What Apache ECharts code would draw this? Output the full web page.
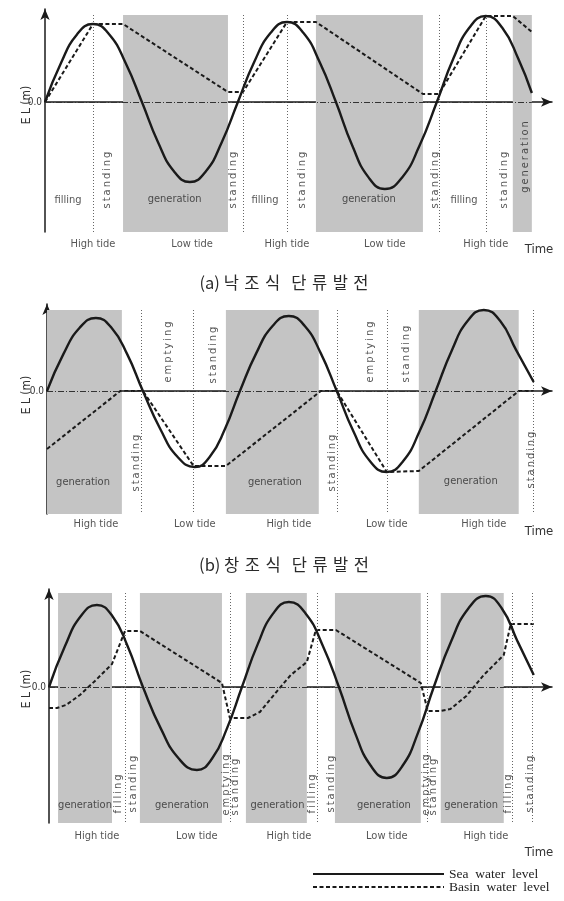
<!DOCTYPE html>
<html><head><meta charset="utf-8">
<script src="https://cdn.jsdelivr.net/npm/echarts@6/dist/echarts.min.js"></script>
<style>html,body{margin:0;padding:0;background:#fff}#c{width:564px;height:901px}</style>
</head><body><div id="c"></div>
<script>
// ---------- DATA (time in h, water level in m) ----------
// (a) 낙조식 단류발전 (ebb generation)
const seaA = [[0,0],[1.0,1.95],[2.0,3.38],[3.0,3.9],[4.02,3.38],[5.04,1.95],[6.06,0],[7.06,-2.0],[8.06,-3.46],[9.06,-4.0],[10.06,-3.46],[11.06,-2.0],[12.06,0],[13.08,2.0],[14.11,3.46],[15.13,4.0],[16.15,3.46],[17.17,2.0],[18.19,0],[19.21,-2.18],[20.23,-3.77],[21.25,-4.35],[22.33,-3.77],[23.42,-2.18],[24.5,0],[25.52,2.15],[26.54,3.72],[27.56,4.3],[28.58,3.72],[29.6,2.15],[30.44,0.45]];
const basinA = [[0,0],[3.0,3.9],[4.88,3.9],[11.44,0.5],[12.38,0.5],[15.13,4.0],[16.94,4.0],[23.63,0.4],[24.63,0.4],[27.56,4.3],[29.25,4.3],[30.44,3.5]];
const genA = [[4.88,11.44],[16.94,23.63],[29.25,30.44]];
const divA = [3.0,12.38,15.13,24.63,27.56];
const phaseA = [['filling',1.44,-4.9,0],['standing',3.88,-3.9,90],['generation',8.1,-4.85,0],['standing',11.75,-3.9,90],['filling',13.75,-4.9,0],['standing',16.06,-3.9,90],['generation',20.25,-4.85,0],['standing',24.4,-3.9,90],['filling',26.2,-4.9,0],['standing',28.7,-3.9,90],['generation',30.0,-2.75,90]];
const tideA = [[3.0,'High tide'],[9.2,'Low tide'],[15.13,'High tide'],[21.25,'Low tide'],[27.56,'High tide']];

// (b) 창조식 단류발전 (flood generation)
const seaB = [[0,0],[1.02,1.83],[2.05,3.16],[3.07,3.65],[4.05,3.16],[5.04,1.83],[6.02,0],[7.11,-1.9],[8.19,-3.29],[9.28,-3.8],[10.22,-3.29],[11.17,-1.9],[12.11,0],[13.13,1.88],[14.16,3.25],[15.18,3.75],[16.18,3.25],[17.19,1.88],[18.19,0],[19.24,-2.03],[20.28,-3.51],[21.33,-4.05],[22.35,-3.51],[23.38,-2.03],[24.4,0],[25.41,2.03],[26.41,3.51],[27.42,4.05],[28.44,3.51],[29.46,2.03],[30.55,0.45]];
const basinB = [[0,-2.9],[4.6,0],[6.02,0],[9.2,-3.75],[11.23,-3.75],[17.19,0],[18.19,0],[21.33,-4.05],[23.34,-4.0],[29.61,0],[30.55,0]];
const genB = [[0,4.7],[11.23,17.06],[23.34,29.61]];
const divB = [5.9,9.2,18.19,21.33,30.55];
const phaseB = [['generation',2.26,-4.55,0],['standing',5.58,-3.6,90],['emptying',7.59,1.95,90],['standing',10.4,1.8,90],['generation',14.3,-4.55,0],['standing',17.88,-3.6,90],['emptying',20.26,1.95,90],['standing',22.52,1.85,90],['generation',26.6,-4.5,0],['standing',30.36,-3.45,90]];
const tideB = [[3.07,'High tide'],[9.28,'Low tide'],[15.18,'High tide'],[21.33,'Low tide'],[27.42,'High tide']];

// (c) 복류발전 (two-way generation)
const seaC = [[0,0],[1.01,2.05],[2.01,3.55],[3.02,4.1],[3.99,3.55],[4.95,2.05],[5.92,0],[7.05,-2.08],[8.19,-3.59],[9.32,-4.15],[10.27,-3.59],[11.21,-2.08],[12.16,0],[13.15,2.13],[14.13,3.68],[15.12,4.25],[16.17,3.68],[17.22,2.13],[18.27,0],[19.28,-2.28],[20.28,-3.94],[21.29,-4.55],[22.28,-3.94],[23.26,-2.28],[24.25,0],[25.34,2.28],[26.44,3.94],[27.53,4.55],[28.53,3.94],[29.53,2.28],[30.55,0.6]];
const basinC = [[0,-1.05],[0.5,-1.05],[1.07,-0.9],[1.95,-0.4],[2.96,0.35],[3.97,1.15],[4.79,2.8],[5.73,2.8],[10.9,0.2],[11.4,-1.55],[12.54,-1.55],[13.29,-1.25],[14.43,-0.15],[15.24,0.6],[16.25,1.25],[16.82,2.85],[18.08,2.85],[23.43,0.2],[23.87,-1.2],[24.69,-1.2],[25.3,-1.1],[26.3,-0.45],[27.4,0.6],[28.66,1.6],[29.1,3.15],[30.55,3.15]];
const genC = [[0.57,3.97],[5.73,10.9],[12.41,16.25],[18.02,23.43],[24.69,28.66]];
const divC = [4.79,11.4,16.88,23.81,29.17,30.43];
const phaseC = [['generation',2.27,-5.9,0],['filling',4.35,-5.35,90],['standing',5.29,-4.85,90],['generation',8.38,-5.9,0],['emptying',11.15,-4.9,90],['standing',11.72,-5.0,90],['generation',14.4,-5.9,0],['filling',16.6,-5.35,90],['standing',17.76,-4.85,90],['generation',21.1,-5.9,0],['emptying',23.75,-4.9,90],['standing',24.19,-5.0,90],['generation',26.6,-5.9,0],['filling',28.95,-5.35,90],['standing',30.3,-4.85,90]];
const tideC = [[3.02,'High tide'],[9.32,'Low tide'],[15.12,'High tide'],[21.29,'Low tide'],[27.53,'High tide']];

const captions = ['(a) 낙조식 단류발전','(b) 창조식 단류발전'];
const legendNames = ['Sea water level','Basin water level'];

// ---------- LAYOUT / STYLE ----------
const NARROW = "'Liberation Sans Narrow','DejaVu Sans Condensed','Liberation Sans',sans-serif";
const INK = '#1a1a1a';
const panels = [
  {sea:seaA, basin:basinA, gen:genA, div:divA, phase:phaseA, tide:tideA, left:45, top:9, height:223, min:-6.5, max:4.65, areaTop:4.35, end:30.44, tideDist:7},
  {sea:seaB, basin:basinB, gen:genB, div:divB, phase:phaseB, tide:tideB, left:47, top:304, height:210, min:-6.15, max:4.35, areaTop:4.05, end:30.55, tideDist:5},
  {sea:seaC, basin:basinC, gen:genC, div:divC, phase:phaseC, tide:tideC, left:49, top:589, height:234, min:-6.8, max:4.9, areaTop:4.7, end:30.55, tideDist:8}
];
const spaced = s => s.split('').join('\u2009');

const grid=[], xAxis=[], yAxis=[], series=[];
panels.forEach((p,i)=>{
  grid.push({left:p.left, right:12, top:p.top, height:p.height});
  xAxis.push({type:'value', gridIndex:i, min:0, max:31.7,
    axisLine:{show:true, lineStyle:{color:INK, width:1.5}, symbol:['none','arrow'], symbolSize:[7,11]},
    axisTick:{show:false}, axisLabel:{show:false}, splitLine:{show:false}});
  yAxis.push({type:'value', gridIndex:i, min:p.min, max:p.max,
    axisLine:{show:true, onZero:false, lineStyle:{color:INK, width:1.5}, symbol:['none','arrow'], symbolSize:[7,11]},
    axisTick:{show:false}, splitLine:{show:false},
    axisLabel:{show:true, margin:3, fontSize:10, color:'#333', fontFamily:NARROW,
      formatter:v=>Math.abs(v)<1e-9?'0.0':''}});
  series.push({type:'line', xAxisIndex:i, yAxisIndex:i, data:[[0,0]], symbol:'none', silent:true, z:1,
    lineStyle:{opacity:0},
    markArea:{silent:true, itemStyle:{color:'#c4c4c4'},
      data:p.gen.map(g=>[{coord:[g[0],p.areaTop]},{coord:[g[1],p.min]}])}});
  const ml = p.div.map(t=>[{coord:[t,p.areaTop], lineStyle:{color:'#666', width:1, type:[1,2]}},{coord:[t,p.min]}]);
  ml.push([{coord:[0,0], lineStyle:{color:'#333', width:1.2, type:[6,2,1,2]}},{coord:[p.end,0]}]);
  series.push({type:'line', xAxisIndex:i, yAxisIndex:i, data:[[0,0]], symbol:'none', silent:true, z:2,
    lineStyle:{opacity:0},
    markLine:{silent:true, symbol:['none','none'], label:{show:false}, data:ml}});
  series.push({name:legendNames[0], type:'line', xAxisIndex:i, yAxisIndex:i, data:p.sea, smooth:0.5,
    symbol:'none', z:5, lineStyle:{color:INK, width:2.4}, itemStyle:{color:INK}});
  series.push({name:legendNames[1], type:'line', xAxisIndex:i, yAxisIndex:i, data:p.basin,
    symbol:'none', z:4, lineStyle:{color:INK, width:2, type:[4,2.5]}, itemStyle:{color:INK}});
  series.push({type:'scatter', xAxisIndex:i, yAxisIndex:i, symbolSize:0, silent:true, clip:false, z:6,
    data:p.phase.map(d=>({value:[d[1],d[2]], label:{show:true, position:'inside', rotate:d[3],
      formatter:d[3]?spaced(d[0]):d[0], fontSize:11, color:'#2a2a2a', fontFamily:NARROW,
      align:'center', verticalAlign:'middle'}}))});
  series.push({type:'scatter', xAxisIndex:i, yAxisIndex:i, symbolSize:0, silent:true, clip:false, z:6,
    data:p.tide.map(d=>({value:[d[0],p.min], label:{show:true, position:'bottom', distance:p.tideDist,
      formatter:d[1], fontSize:11, color:'#2a2a2a', fontFamily:NARROW}}))});
});

const graphic = [];
const elY = [105, 395, 689], timeY = [250, 532, 853];
elY.forEach(y=>graphic.push({type:'text', x:27, y:y, rotation:Math.PI/2,
  style:{text:'E L (m)', fill:'#333', font:"12px "+NARROW, textAlign:'center', textVerticalAlign:'middle'}}));
timeY.forEach(y=>graphic.push({type:'text', x:539, y:y,
  style:{text:'Time', fill:'#333', font:"13px "+NARROW, textAlign:'center', textVerticalAlign:'middle'}}));
const capY = [283, 565];
captions.forEach((c,k)=>{
  const parts = c.split(' ');
  const txt = parts[0]+' '+parts[1].split('').join('\u2004')+'   '+parts[2].split('').join('\u2004');
  graphic.push({type:'text', x:284, y:capY[k],
    style:{text:txt, fill:'#2a2a2a', font:"16.5px 'Noto Sans CJK KR'", textAlign:'center', textVerticalAlign:'middle'}});
});

const chart = echarts.init(document.getElementById('c'), null, {renderer:'canvas'});
chart.setOption({
  animation:false, backgroundColor:'#fff',
  grid, xAxis, yAxis, series, graphic,
  legend:{data:legendNames.map(n=>({name:n})), orient:'vertical', left:312, top:867, height:40, padding:0,
    itemWidth:131, itemHeight:10, itemGap:-1, itemTextGap:4, selectedMode:false, itemStyle:{opacity:0},
    formatter:n=>n.split(' ').join('  '),
    textStyle:{fontFamily:"'Liberation Serif','DejaVu Serif',serif", fontSize:13.5, color:'#222'}}
});
</script></body></html>
